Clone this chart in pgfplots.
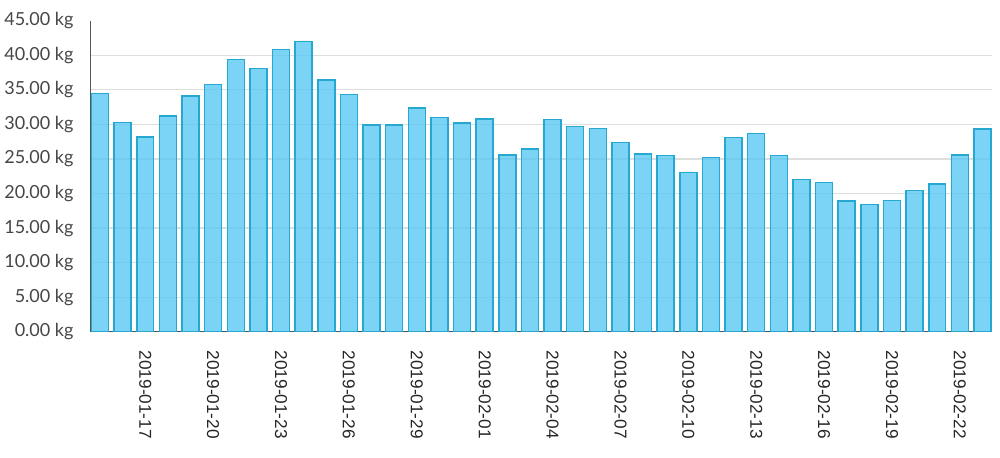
\documentclass[border=0pt]{standalone}
\usepackage{pgfplots}
\pgfplotsset{compat=1.18}
\usepackage{fontspec}
\setmainfont{Lato}
\newfontfamily\arialfont{Liberation Sans}
\definecolor{barfill}{RGB}{90,200,242}
\definecolor{baredge}{RGB}{38,168,208}
\definecolor{gridgrey}{RGB}{222,222,222}
\definecolor{axisgrey}{RGB}{85,85,85}
\definecolor{labelgrey}{RGB}{70,70,70}

\begin{document}
\begin{tikzpicture}
\path[use as bounding box] (0,0) rectangle (500pt,229pt);
\begin{axis}[
  at={(45.25pt,63.15pt)}, anchor=south west,
  scale only axis,
  width=450.75pt, height=155.5pt,
  ybar, bar width=0.75,
  xmin=-0.42, xmax=39.42,
  ymin=0, ymax=45,
  axis x line*=bottom, axis y line*=left,
  axis line style={-, draw=axisgrey, line width=0.8pt},
  major tick length=0pt,
  ytick={0,5,...,40},
  yticklabels={0.00 kg,5.00 kg,10.00 kg,15.00 kg,20.00 kg,25.00 kg,30.00 kg,35.00 kg,40.00 kg},
  extra y ticks={45},
  extra y tick labels={45.00 kg},
  extra y tick style={grid=none},
  ymajorgrids,
  grid style={draw=gridgrey, line width=0.6pt},
  yticklabel style={font=\fontsize{9}{10}\selectfont, text=labelgrey, xshift=-5pt},
  xtick={2,5,...,38},
  xticklabels={2019-01-17,2019-01-20,2019-01-23,2019-01-26,2019-01-29,2019-02-01,2019-02-04,2019-02-07,2019-02-10,2019-02-13,2019-02-16,2019-02-19,2019-02-22},
  xticklabel style={font=\arialfont\fontsize{8.6}{10}\selectfont, text=black!85, rotate=-90, anchor=west},
  xticklabel shift=6pt,
]
\addplot[fill=barfill, fill opacity=0.8, draw=baredge, line width=0.75pt] coordinates {
  (0,34.5)(1,30.3)(2,28.2)(3,31.2)(4,34.1)(5,35.8)(6,39.4)(7,38.1)(8,40.8)(9,42.0)
  (10,36.4)(11,34.3)(12,29.9)(13,29.9)(14,32.4)(15,31.0)(16,30.2)(17,30.8)(18,25.6)(19,26.4)
  (20,30.7)(21,29.7)(22,29.4)(23,27.4)(24,25.7)(25,25.5)(26,23.0)(27,25.2)(28,28.1)(29,28.7)
  (30,25.5)(31,22.0)(32,21.6)(33,18.9)(34,18.4)(35,19.0)(36,20.4)(37,21.4)(38,25.6)(39,29.3)
};
\end{axis}
\end{tikzpicture}
\end{document}
